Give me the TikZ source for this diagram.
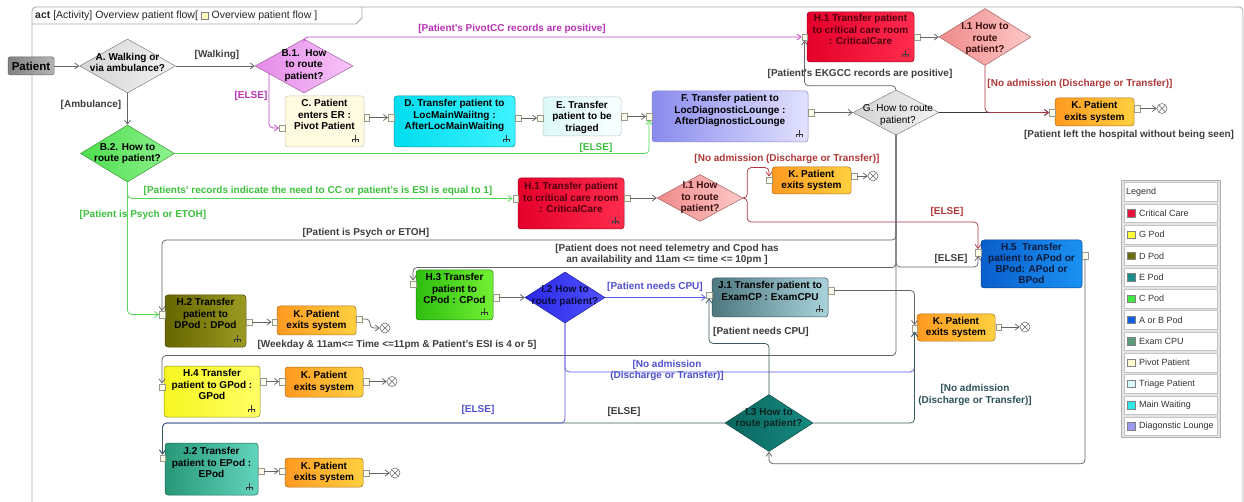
\documentclass[tikz,border=0pt]{standalone}
\usepackage{fontspec}
\setmainfont{Liberation Sans}
\usetikzlibrary{shapes.geometric,arrows.meta,calc}

\definecolor{lgray}{HTML}{646464}
\definecolor{dgray}{HTML}{3A3A3A}
\definecolor{lbgray}{HTML}{3E3E3E}
\definecolor{magline}{HTML}{C044C8}
\definecolor{maglbl}{HTML}{B832B8}
\definecolor{grnline}{HTML}{58D858}
\definecolor{grnlbl}{HTML}{3CC03C}
\definecolor{redline}{HTML}{A83848}
\definecolor{redlbl}{HTML}{B03838}
\definecolor{blueline}{HTML}{5A5AE0}
\definecolor{bluelbl}{HTML}{5050D0}
\definecolor{slateline}{HTML}{3C5A62}
\definecolor{slatelbl}{HTML}{2E5258}
\definecolor{framec}{HTML}{A8A8A8}
\definecolor{pinf}{HTML}{FCFCEC}
\definecolor{pind}{HTML}{9A9A8A}
\definecolor{patL}{HTML}{808080}\definecolor{patR}{HTML}{B4B4B4}
\definecolor{gdL}{HTML}{D4D4D4}\definecolor{gdR}{HTML}{F2F2F2}
\definecolor{b1L}{HTML}{E48AE8}\definecolor{b1R}{HTML}{F8C4F8}
\definecolor{b2L}{HTML}{4EDE4E}\definecolor{b2R}{HTML}{8EF28E}
\definecolor{pivot}{HTML}{FFFBE0}
\definecolor{cyL}{HTML}{00DDEE}\definecolor{cyR}{HTML}{40F2FF}
\definecolor{trL}{HTML}{DDF8F8}\definecolor{trR}{HTML}{F8FFFF}
\definecolor{dlL}{HTML}{8A8AEE}\definecolor{dlR}{HTML}{E2E2FF}
\definecolor{ccL}{HTML}{E4002A}\definecolor{ccR}{HTML}{FF2C4E}
\definecolor{i1L}{HTML}{EE8A8A}\definecolor{i1R}{HTML}{FFC8C8}
\definecolor{kL}{HTML}{FF9A22}\definecolor{kR}{HTML}{FFD040}
\definecolor{abL}{HTML}{0A5ECC}\definecolor{abR}{HTML}{1A92F2}
\definecolor{dpL}{HTML}{666600}\definecolor{dpR}{HTML}{9A9A22}
\definecolor{cpL}{HTML}{2EBE10}\definecolor{cpR}{HTML}{72F034}
\definecolor{i2L}{HTML}{2828E6}\definecolor{i2R}{HTML}{5252FF}
\definecolor{j1L}{HTML}{4E7880}\definecolor{j1R}{HTML}{AAD2DA}
\definecolor{i3L}{HTML}{0A665F}\definecolor{i3R}{HTML}{178A80}
\definecolor{gpL}{HTML}{F6F620}\definecolor{gpR}{HTML}{FFFF66}
\definecolor{epL}{HTML}{289878}\definecolor{epR}{HTML}{62D4BC}
\definecolor{cctext}{HTML}{50000E}
\definecolor{abtext}{HTML}{0A1A3A}
\definecolor{i1text}{HTML}{3A1010}
\definecolor{i2text}{HTML}{0A0A3A}
\definecolor{i3text}{HTML}{0A2422}
\definecolor{legb}{HTML}{B0B0B0}
\definecolor{legf}{HTML}{E4E4E4}
\definecolor{legr}{HTML}{C4C4C4}
\definecolor{legt}{HTML}{333333}
\definecolor{swcc}{HTML}{E8103C}
\definecolor{swgp}{HTML}{FFFF40}
\definecolor{swdp}{HTML}{6E6E10}
\definecolor{swep}{HTML}{1A8C8C}
\definecolor{swcp}{HTML}{40E840}
\definecolor{swab}{HTML}{1060E0}
\definecolor{swex}{HTML}{5A9A7A}
\definecolor{swpv}{HTML}{FFFAD0}
\definecolor{swtr}{HTML}{D8FFFF}
\definecolor{swmw}{HTML}{30E8E8}
\definecolor{swdl}{HTML}{9A9AF0}

\newcommand{\tbt}[4]{\parbox[c][#2][t]{#1}{\centering\fontsize{10}{11.5}\selectfont\bfseries\vspace*{#3}#4}}
\newcommand{\tbc}[3]{\parbox[c][#2][c]{#1}{\centering\fontsize{10}{11.5}\selectfont\bfseries #3}}
\newcommand{\hdricon}{{\setlength{\fboxsep}{0pt}\setlength{\fboxrule}{0.4pt}\fcolorbox{gray}{yellow!25}{\rule{0pt}{6pt}\rule{7pt}{0pt}}}}
\newcommand{\rake}[1]{\draw[dgray, line width=0.5pt] ([shift={(-9,-5)}]#1.south east) -- ++(0,-7) ([shift={(-12,-8)}]#1.south east) -- ++(6,0) ([shift={(-12,-8)}]#1.south east) -- ++(0,3) ([shift={(-6,-8)}]#1.south east) -- ++(0,3);}

\tikzset{
  actbox/.style={rectangle, rounded corners=3pt, inner sep=0pt, line width=0.5pt},
  kbox/.style={actbox, left color=kL, right color=kR, draw=kL!70!black},
  ccbox/.style={actbox, left color=ccL, right color=ccR, draw=ccL!70!black, text=cctext},
  dia/.style={diamond, inner sep=0pt, line width=0.5pt},
  dtext/.style={font=\fontsize{10}{11.5}\selectfont\bfseries, align=center, inner sep=0pt},
  pinbox/.style={rectangle, draw=pind, fill=pinf, minimum width=5.5pt, minimum height=6.5pt, inner sep=0pt, line width=0.4pt},
  flowfinal/.style={circle, draw=lgray, fill=white, minimum size=10pt, inner sep=0pt, line width=0.5pt,
    path picture={\draw[lgray, line width=0.5pt] (path picture bounding box.north west) -- (path picture bounding box.south east) (path picture bounding box.north east) -- (path picture bounding box.south west);}},
  flow/.style={draw=#1, line width=0.75pt, rounded corners=4pt, -{Straight Barb[length=4pt,width=6pt]}},
  flow/.default=lgray,
  lbl/.style={font=\fontsize{10}{11.5}\selectfont\bfseries, inner sep=0pt, align=center, text=#1},
  lbl/.default=lbgray,
}

\begin{document}
\begin{tikzpicture}[x=1pt,y=-1pt]
\useasboundingbox (0,0) rectangle (1244,502);
\fill[white] (0,0) rectangle (1244,502);
\clip (0,0) rectangle (1244,502);

% frame
\draw[framec, line width=0.8pt, rounded corners=4pt] (32,540) -- (32,7) -- (1243,7) -- (1243,540);
\draw[framec, line width=0.8pt] (32,24) -- (356,24) -- (362,18) -- (362,7);
\node[anchor=west, inner sep=0pt, font=\fontsize{10.5}{12}\selectfont, text=black!85] (hdr) at (35,16) {\textbf{act} [Activity] Overview patient flow[ \hdricon\ Overview patient flow ]};

% activity boxes
\node[actbox, rounded corners=1.5pt, left color=patL, right color=patR, draw=black!60] (Patient) at (31,66) {\tbc{46pt}{18pt}{\fontsize{11.5}{12}\selectfont Patient}};
\node[actbox, fill=pivot, draw=pivot!60!gray] (C) at (324.5,121.5) {\tbt{79pt}{51pt}{3.4pt}{C. Patient\\enters ER :\\Pivot Patient}};
\node[actbox, left color=cyL, right color=cyR, draw=cyL!70!black] (D) at (454.5,121.5) {\tbt{121pt}{51pt}{3.4pt}{D. Transfer patient to\\LocMainWaiitng :\\AfterLocMainWaiting}};
\node[actbox, left color=trL, right color=trR, draw=trL!60!gray] (E) at (582,116.5) {\tbt{78pt}{39pt}{4pt}{E. Transfer\\patient to be\\triaged}};
\node[actbox, left color=dlL, right color=dlR, draw=dlL!70!gray] (F) at (730,116.5) {\tbt{156pt}{51pt}{3.4pt}{F. Transfer patient to\\LocDiagnosticLounge :\\AfterDiagnosticLounge}};
\node[ccbox] (H1t) at (860.5,37) {\tbt{107pt}{50pt}{2.4pt}{H.1 Transfer patient\\to critical care room\\: CriticalCare}};
\node[kbox] (Kt) at (1094.5,112) {\tbc{79pt}{28pt}{K. Patient\\exits system}};
\node[ccbox] (H1m) at (571,203.5) {\tbt{106pt}{51pt}{4.4pt}{H.1 Transfer patient\\to critical care room\\: CriticalCare}};
\node[kbox] (Km) at (811.5,180.5) {\tbc{79pt}{27pt}{K. Patient\\exits system}};
\node[actbox, left color=abL, right color=abR, draw=abL!70!black, text=abtext] (H5) at (1031.5,264) {\tbt{101pt}{48pt}{3.4pt}{\fontsize{10}{11}\selectfont H.5\ \ Transfer\\patient to APod or\\BPod: APod or\\BPod}};
\node[actbox, left color=dpL, right color=dpR, draw=dpL!70!black] (H2) at (205.5,321) {\tbt{81pt}{52pt}{3.4pt}{H.2 Transfer\\patient to\\DPod : DPod}};
\node[kbox] (K2) at (316.5,320.5) {\tbc{79pt}{29pt}{K. Patient\\exits system}};
\node[actbox, left color=cpL, right color=cpR, draw=cpL!70!black] (H3) at (454.5,295) {\tbt{77pt}{50pt}{3.4pt}{H.3 Transfer\\patient to\\CPod : CPod}};
\node[actbox, left color=j1L, right color=j1R, draw=j1L!70!black] (J1) at (770,297.5) {\tbt{116pt}{39pt}{3.4pt}{J.1 Transfer patient to\\ExamCP : ExamCPU}};
\node[kbox] (K3) at (956,327.5) {\tbc{78pt}{27pt}{K. Patient\\exits system}};
\node[actbox, left color=gpL, right color=gpR, draw=gpL!60!black] (H4) at (212,391.5) {\tbt{96pt}{51pt}{3.4pt}{H.4 Transfer\\patient to GPod :\\GPod}};
\node[kbox] (K4) at (324,382) {\tbc{78pt}{30pt}{K. Patient\\exits system}};
\node[actbox, left color=epL, right color=epR, draw=epL!70!black] (J2) at (211.5,469) {\tbt{93pt}{52pt}{4.4pt}{J.2 Transfer\\patient to EPod :\\EPod}};
\node[kbox] (K5) at (324,472.5) {\tbc{78pt}{29pt}{K. Patient\\exits system}};

\rake{C}\rake{D}\rake{F}\rake{H1t}\rake{H1m}\rake{H2}\rake{H3}\rake{J1}\rake{H4}\rake{J2}

% decisions
\node[dia, minimum width=96pt, minimum height=54pt, left color=gdL, right color=gdR, draw=gray,
  label={[dtext,yshift=3.5pt]center:{A. Walking or\\via ambulance?}}] (A) at (127.5,66) {};
\node[dia, minimum width=98pt, minimum height=54pt, left color=b1L, right color=b1R, draw=b1L!70!black,
  label={[dtext,yshift=0.5pt]center:{B.1.\ \ How\\to route\\patient?}}] (B1) at (304,66) {};
\node[dia, minimum width=94pt, minimum height=57pt, left color=b2L, right color=b2R, draw=b2L!70!black,
  label={[dtext]center:{B.2. How to\\route patient?}}] (B2) at (127.5,153.5) {};
\node[dia, minimum width=86pt, minimum height=45pt, left color=gdL, right color=gdR, draw=gray,
  label={[dtext,font=\fontsize{10}{11.5}\selectfont,xshift=2pt,yshift=-2.5pt]center:{G. How to route\\patient?}}] (G) at (896,112.5) {};
\node[dia, minimum width=92pt, minimum height=57pt, left color=i1L, right color=i1R, draw=i1L!70!black,
  label={[dtext,text=i1text,yshift=-2pt]center:{I.1 How to\\route\\patient?}}] (I1t) at (985,37) {};
\node[dia, minimum width=86pt, minimum height=47pt, left color=i1L, right color=i1R, draw=i1L!70!black,
  label={[dtext,text=i1text]center:{I.1 How\\to route\\patient?}}] (I1m) at (700,198) {};
\node[dia, minimum width=80pt, minimum height=51pt, left color=i2L, right color=i2R, draw=i2L!70!black,
  label={[dtext,text=i2text,yshift=1.5pt]center:{I.2 How to\\route patient?}}] (I2) at (565,297.5) {};
\node[dia, minimum width=88pt, minimum height=57pt, left color=i3L, right color=i3R, draw=i3L!70!black,
  label={[dtext,text=i3text,yshift=4.5pt]center:{I.3 How to\\route patient?}}] (I3) at (769,423) {};

% pins
\node[pinbox] (Cin) at (282,128) {};
\node[pinbox] (Cout) at (366.5,117.5) {};
\node[pinbox] (Din) at (391,117.5) {};
\node[pinbox] (Dout) at (518,118) {};
\node[pinbox] (Ein) at (540,118) {};
\node[pinbox] (Eout) at (624,116.5) {};
\node[pinbox] (Fin) at (649,116.5) {};
\node[pinbox] (Fout) at (811,112.5) {};
\node[pinbox] (H1in) at (804.5,37) {};
\node[pinbox] (H1out) at (917,37) {};
\node[pinbox] (Ktin) at (1052,112.5) {};
\node[pinbox] (Ktout) at (1137,108.5) {};
\node[pinbox] (H1min) at (515.5,198.5) {};
\node[pinbox] (H1mout) at (627,198) {};
\node[pinbox] (Kmin) at (769,180) {};
\node[pinbox] (Kmout) at (854,176) {};
\node[pinbox] (H5in) at (978,252.5) {};
\node[pinbox] (H5out) at (1085,255.5) {};
\node[pinbox] (H2in) at (162,314.5) {};
\node[pinbox] (H2out) at (249,322) {};
\node[pinbox] (K2in) at (274.5,322) {};
\node[pinbox] (K2out) at (359,319) {};
\node[pinbox] (H3in) at (413,284) {};
\node[pinbox] (H3out) at (496,297.5) {};
\node[pinbox] (J1in) at (709,295) {};
\node[pinbox] (J1out) at (831,290.5) {};
\node[pinbox] (K3in) at (914.5,328.5) {};
\node[pinbox] (K3out) at (998.5,327) {};
\node[pinbox] (H4in) at (162,387) {};
\node[pinbox] (H4out) at (263,381.5) {};
\node[pinbox] (K4in) at (282,381.5) {};
\node[pinbox] (K4out) at (366,381.5) {};
\node[pinbox] (J2in) at (162.5,458) {};
\node[pinbox] (J2out) at (261,471) {};
\node[pinbox] (K5in) at (282,471) {};
\node[pinbox] (K5out) at (366,473) {};

% final nodes
\node[flowfinal] (Ktf) at (1162,108.5) {};
\node[flowfinal] (Kmf) at (873,176) {};
\node[flowfinal] (K2f) at (385,328) {};
\node[flowfinal] (K3f) at (1025,327) {};
\node[flowfinal] (K4f) at (392,381.5) {};
\node[flowfinal] (K5f) at (395,473) {};

% connectors
\draw[flow] (Patient.east) -- (A.west);
\draw[flow] (A.east) -- (B1.west);
\draw[flow] (A.south) -- (B2.north);
\draw[flow=magline] ($(B1.west)!0.29!(B1.south)$) |- (Cin.west);
\draw[flow] (Cout.east) -- (Din.west);
\draw[flow] (Dout.east) -- (Ein.west);
\draw[flow] (Eout.east) -- (Fin.west);
\draw[flow=grnline] (B2.east) -| (Fin.south);
\draw[flow] (Fout.east) -- (G.west);
\draw[flow=dgray] (G.east) -- (Ktin.west);
\draw[flow] (G.north) -- ++(0,-4) -| (H1in.south);
\draw[flow=magline] (B1.north) |- (H1in.west);
\draw[flow] (H1out.east) -- (I1t.west);
\draw[flow=redline] (I1t.south) |- (Ktin.west);
\draw[flow] (Ktout.east) -- (Ktf);
\draw[flow=grnline] (B2.south) |- (H1min.west);
\draw[flow=grnline] (B2.south) |- (H2in.west);
\draw[flow] (H1mout.east) -- (I1m.west);
\draw[flow=redline] (I1m.east) -- ++(4,0) |- ([yshift=9pt]Kmin.north) -- (Kmin.north);
\draw[flow=redline] (I1m.east) -- ++(4,0) |- ([yshift=27pt]H5in.north) -- (H5in.north);
\draw[flow] (Kmout.east) -- (Kmf);
\draw[flow] (G.south) |- ([yshift=-11pt]H5in.south) -- (H5in.south);
\draw[flow] (G.south) |- ([yshift=13pt]H3in.north) -- (H3in.north);
\draw[flow] (G.south) |- ([yshift=71pt]H2in.north) -- (H2in.north);
\draw[flow] (G.south) |- ([yshift=28pt]H4in.north) -- (H4in.north);
\draw[flow] (H2out.east) -- (K2in.west);
\draw[flow] (K2out.east) -- ++(8,0) |- (K2f.west);
\draw[flow] (H3out.east) -- (I2.west);
\draw[flow=blueline] (I2.east) -- (I2.east -| J1in.west);
\draw[flow=blueline] (I2.south) |- ([yshift=-40pt]K3in.south) -- (K3in.south);
\draw[flow=blueline] (I2.south) |- ([yshift=31.5pt]J2in.north) -- (J2in.north);
\draw[flow=slateline] (I3.north) |- ([yshift=-45pt]J1in.south) -- (J1in.south);
\draw[flow=slateline] (I3.west) -| (J2in.north);
\draw[flow=slateline] (I3.east) -| (K3in.south);
\draw[flow] (J1out.east) -| (K3in.north);
\draw[flow] (K3out.east) -- (K3f);
\draw[flow] (H5out.south) |- ([yshift=-12pt]I3.south) -- (I3.south);
\draw[flow] (H4out.east) -- (K4in.west);
\draw[flow] (K4out.east) -- (K4f);
\draw[flow] (J2out.east) -- (K5in.west);
\draw[flow] (K5out.east) -- (K5f);

% guard labels
\node[lbl] (lWalk) at (217,55) {[Walking]};
\node[lbl] (lAmb) at (91,105) {[Ambulance]};
\node[lbl=maglbl] (lElse1) at (251,96) {[ELSE]};
\node[lbl=maglbl] (lPivot) at (512,29) {[Patient's PivotCC records are positive]};
\node[lbl] (lEKG) at (860,74) {[Patient's EKGCC records are positive]};
\node[lbl=redlbl] (lNoAd1) at (1080,84) {[No admission (Discharge or Transfer)]};
\node[lbl] (lLeft) at (1129,135) {[Patient left the hospital without being seen]};
\node[lbl=grnlbl] (lElse2) at (596,148) {[ELSE]};
\node[lbl=redlbl] (lNoAd2) at (787,159) {[No admission (Discharge or Transfer)]};
\node[lbl=grnlbl] (lCC) at (318,191) {[Patients' records indicate the need to CC or patient's is ESI is equal to 1]};
\node[lbl=grnlbl] (lPsy1) at (143,215) {[Patient is Psych or ETOH]};
\node[lbl] (lPsy2) at (366,233) {[Patient is Psych or ETOH]};
\node[lbl=redlbl] (lElse3) at (947,212) {[ELSE]};
\node[lbl] (lElse4) at (951,259) {[ELSE]};
\node[lbl] (lTele) at (667,254.5) {[Patient does not need telemetry and Cpod has\\an availability and 11am <= time <= 10pm ]};
\node[lbl] (lWeek) at (397,345) {[Weekday \& 11am<= Time <=11pm \& Patient's ESI is 4 or 5]};
\node[lbl=bluelbl] (lCPU1) at (655,287) {[Patient needs CPU]};
\node[lbl=dgray] (lCPU2) at (761,332) {[Patient needs CPU]};
\node[lbl=bluelbl] (lNoAd3) at (667,370.5) {[No admission\\(Discharge or Transfer)]};
\node[lbl=bluelbl] (lElse5) at (478,410) {[ELSE]};
\node[lbl=dgray] (lElse6) at (624,412) {[ELSE]};
\node[lbl=slatelbl] (lNoAd4) at (975,395) {[No admission\\(Discharge or Transfer)]};

% legend
\node[rectangle, draw=legb, fill=legf, line width=0.6pt, minimum width=99pt, minimum height=257.5pt, inner sep=0pt] (legend) at (1170.5,308.75) {};
\node[rectangle, draw=legr, fill=white, minimum width=93pt, minimum height=18.6pt, inner sep=0pt] (lg0) at (1170.5,192) {};
\node[anchor=west, inner sep=0pt, font=\fontsize{9}{10}\selectfont, text=legt] (lgt0) at (1126,192) {Legend};
\foreach \i/\t/\c in {1/Critical Care/swcc, 2/G Pod/swgp, 3/D Pod/swdp, 4/E Pod/swep, 5/C Pod/swcp, 6/A or B Pod/swab, 7/Exam CPU/swex, 8/Pivot Patient/swpv, 9/Triage Patient/swtr, 10/Main Waiting/swmw, 11/Diagonstic Lounge/swdl}{
  \node[rectangle, draw=legr, fill=white, minimum width=93pt, minimum height=18.6pt, inner sep=0pt] (lg\i) at (1170.5,{192+21.3*\i}) {};
  \node[rectangle, draw=gray, fill=\c, minimum size=7.5pt, inner sep=0pt, line width=0.3pt] (sw\i) at (1131,{192+21.3*\i}) {};
  \node[anchor=west, inner sep=0pt, font=\fontsize{9}{10}\selectfont, text=legt] (lgt\i) at (1139,{192+21.3*\i}) {\t};
}
\end{tikzpicture}
\end{document}
